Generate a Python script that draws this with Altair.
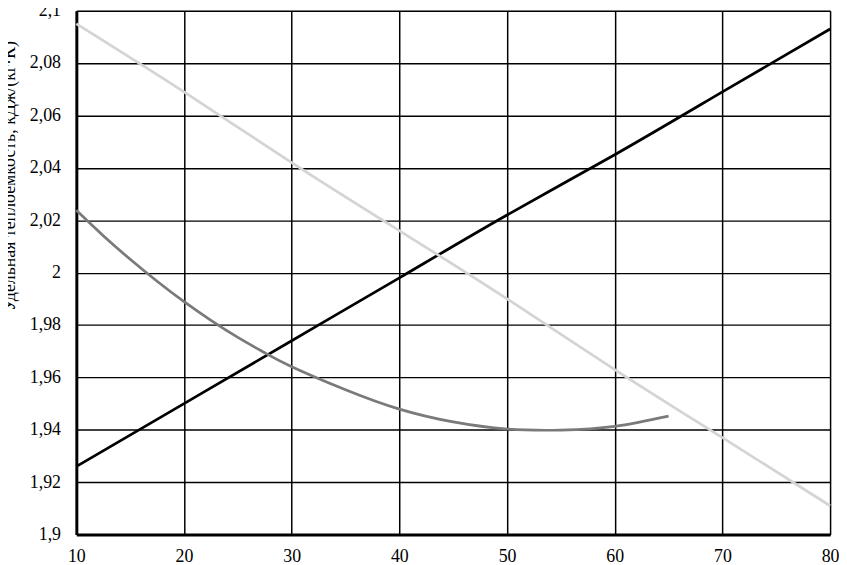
import altair as alt
import pandas as pd

# Series
x_black = [10, 20, 30, 40, 50, 60, 70, 80]
y_black = [1.926, 1.950, 1.974, 1.998, 2.022, 2.045, 2.069, 2.093]

x_light = [10, 20, 30, 40, 50, 60, 70, 80]
y_light = [2.095, 2.069, 2.042, 2.016, 1.990, 1.963, 1.937, 1.911]

x_gray = [10, 12.5, 15, 17.5, 20, 22.5, 25, 27.5, 30, 35, 40, 45, 50, 55, 60, 65]
y_gray = [2.0238, 2.0141, 2.0051, 1.9967, 1.9889, 1.9818, 1.9753, 1.9694, 1.9641,
          1.9553, 1.9479, 1.9430, 1.9403, 1.9399, 1.9413, 1.9452]

x_ticks = [10, 20, 30, 40, 50, 60, 70, 80]
y_ticks = [1.9, 1.92, 1.94, 1.96, 1.98, 2.0, 2.02, 2.04, 2.06, 2.08, 2.1]

series_names = ["black", "gray", "light"]
series_colors = ["#000000", "#7a7a7a", "#d4d4d4"]

rows = []
for name, xs, ys in [("black", x_black, y_black), ("gray", x_gray, y_gray), ("light", x_light, y_light)]:
    for i, (xv, yv) in enumerate(zip(xs, ys)):
        rows.append({"series": name, "x": xv, "y": yv, "order": i})
df = pd.DataFrame(rows)

FONT = "Liberation Serif"

x_enc = alt.X(
    "x:Q",
    scale=alt.Scale(domain=[10, 80], nice=False, zero=False),
    axis=alt.Axis(
        values=x_ticks, title=None, grid=True, gridColor="#000000", gridWidth=1.5,
        gridOpacity=1, domainColor="#000000", domainWidth=3, ticks=False,
        labelFont=FONT, labelFontSize=18, labelColor="#000000", labelPadding=13,
        labelFlush=False, labelOverlap=False,
    ),
)
y_enc = alt.Y(
    "y:Q",
    scale=alt.Scale(domain=[1.9, 2.1], nice=False, zero=False),
    axis=alt.Axis(
        values=y_ticks, grid=True, gridColor="#000000", gridWidth=1.5, gridOpacity=1,
        domainColor="#000000", domainWidth=3, ticks=False,
        labelFont=FONT, labelFontSize=18, labelColor="#000000", labelPadding=16,
        labelFlush=False, labelOverlap=False,
        labelExpr="replace(toString(datum.value), '.', ',')",
        title="Удельная теплоемкость, кДж/(кг·К)", titleFont=FONT, titleFontSize=18,
        titleFontWeight="normal", titleColor="#000000", titleAngle=270,
        titleAlign="left", titleBaseline="middle", titleX=-67, titleY=303,
    ),
)

lines = alt.Chart(df).mark_line(strokeWidth=2.75, interpolate="natural").encode(
    x=x_enc,
    y=y_enc,
    color=alt.Color("series:N", scale=alt.Scale(domain=series_names, range=series_colors), legend=None),
    order="order:Q",
)

chart = lines.properties(
    width=761,
    height=529,
    autosize=alt.AutoSizeParams(type="none"),
    padding={"left": 69, "top": 0, "right": 9, "bottom": 28},
).configure_view(stroke="#000000", strokeWidth=1.5).configure(background="#ffffff")

chart.save("out.html", embed_options={"renderer": "svg", "actions": False})
